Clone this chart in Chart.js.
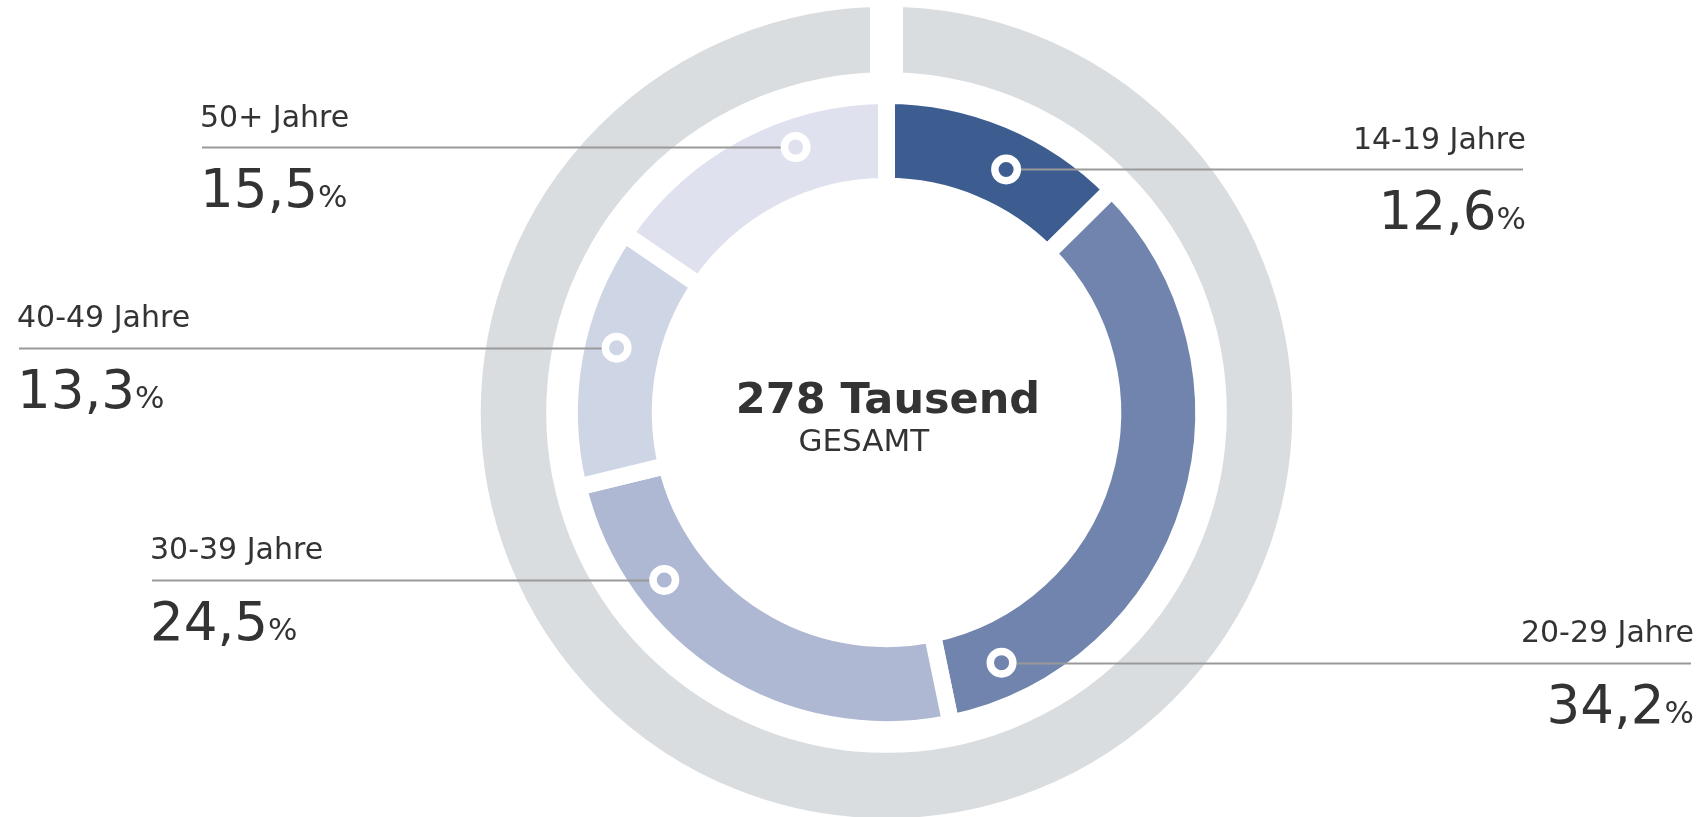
<!DOCTYPE html>
<html>
<head>
<meta charset="utf-8">
<script src="https://cdn.jsdelivr.net/npm/chart.js@4.4.1/dist/chart.umd.min.js"></script>
<style>
  html, body { margin: 0; padding: 0; background: #fff; }
  #wrap { width: 1703px; height: 817px; position: relative; }
</style>
</head>
<body>
<div id="wrap"><canvas id="myChart"></canvas></div>
<script>
// Altersgruppen und Anteile (in %)
const ageGroups = ['14-19 Jahre', '20-29 Jahre', '30-39 Jahre', '40-49 Jahre', '50+ Jahre'];
const shares = [12.6, 34.2, 24.5, 13.3, 15.5];
const totalLabel = '278 Tausend';
const totalSub = 'GESAMT';

const segmentColors = ['#3d5d91', '#7084ad', '#afb8d2', '#ced5e4', '#dfe1ee'];

// Lage der Markierungen im Ring (Grad ab 12 Uhr, Tiefe im Ring 0..1)
const markerAngles = [26.2, 155.3, 233.0, 283.5, 341.1];
const markerDepth = [0.49, 0.55, 0.59, 0.58, 0.62];
// Beschriftungen: Seite und x-Position
const labelSide = ['right', 'right', 'left', 'left', 'left'];
const labelX = [1526, 1694, 150, 17, 200];

const INNER_BORDER = 17;
const OUTER_BORDER = 33;

function fmt(v) {
    return v.toFixed(1).replace('.', ',');
}

const labelPlugin = {
    id: 'ringLabels',
    afterDraw(chart) {
        const ctx = chart.ctx;
        const meta = chart.getDatasetMeta(2);
        ctx.save();
        meta.data.forEach((arc, i) => {
            const inner = arc.innerRadius + INNER_BORDER / 2;
            const outer = arc.outerRadius - INNER_BORDER / 2;
            const r = inner + (outer - inner) * markerDepth[i];
            const a = (markerAngles[i] - 90) * Math.PI / 180;
            const mx = arc.x + r * Math.cos(a);
            const my = arc.y + r * Math.sin(a);
            const right = labelSide[i] === 'right';
            const lineEnd = right ? labelX[i] - 3 : labelX[i] + 2;
            const ly = Math.round(my) + 0.5;

            // Linie
            ctx.strokeStyle = '#999999';
            ctx.lineWidth = 2;
            ctx.beginPath();
            ctx.moveTo(mx + (right ? 14 : -14), ly);
            ctx.lineTo(lineEnd, ly);
            ctx.stroke();

            // Marker
            ctx.strokeStyle = '#ffffff';
            ctx.lineWidth = 7.5;
            ctx.beginPath();
            ctx.arc(mx, my, 11.25, 0, Math.PI * 2);
            ctx.stroke();

            // Texte
            ctx.fillStyle = '#333333';
            ctx.textBaseline = 'alphabetic';
            ctx.font = '30px "DejaVu Sans"';
            ctx.textAlign = right ? 'right' : 'left';
            ctx.fillText(ageGroups[i], labelX[i], my - 20.5);

            const numText = fmt(shares[i]);
            ctx.font = '31px "DejaVu Sans"';
            const pctW = ctx.measureText('%').width;
            ctx.font = '53px "DejaVu Sans"';
            const numW = ctx.measureText(numText).width;
            const nx = right ? labelX[i] - pctW - numW : labelX[i];
            ctx.textAlign = 'left';
            ctx.fillText(numText, nx, my + 60);
            ctx.font = '31px "DejaVu Sans"';
            ctx.fillText('%', nx + numW, my + 60);
        });

        // Mitte
        const c = meta.data[0];
        ctx.fillStyle = '#333333';
        ctx.textAlign = 'center';
        ctx.font = 'bold 43px "DejaVu Sans"';
        ctx.fillText(totalLabel, c.x + 1.5, c.y + 0.5);
        ctx.textAlign = 'left';
        ctx.font = '31px "DejaVu Sans"';
        ctx.fillText(totalSub, c.x - 88, c.y + 38);
        ctx.restore();
    }
};

const ctx = document.getElementById('myChart').getContext('2d');
new Chart(ctx, {
    type: 'doughnut',
    data: {
        labels: ageGroups,
        datasets: [
            { data: [1], backgroundColor: ['#dadde0'], borderColor: '#ffffff', borderWidth: OUTER_BORDER, weight: 98.5, clip: false },
            { data: [1], backgroundColor: ['rgba(0,0,0,0)'], borderWidth: 0, weight: 6.7, clip: false },
            { data: shares, backgroundColor: segmentColors, borderColor: '#ffffff', borderWidth: INNER_BORDER, weight: 90.9, order: -1, clip: false }
        ]
    },
    options: {
        responsive: true,
        maintainAspectRatio: false,
        animation: false,
        events: [],
        radius: 422.3,
        cutout: '53.56%',
        layout: { padding: { left: 70, right: 0, top: 8, bottom: 0 } },
        plugins: { legend: { display: false }, tooltip: { enabled: false } }
    },
    plugins: [labelPlugin]
});
</script>
</body>
</html>
